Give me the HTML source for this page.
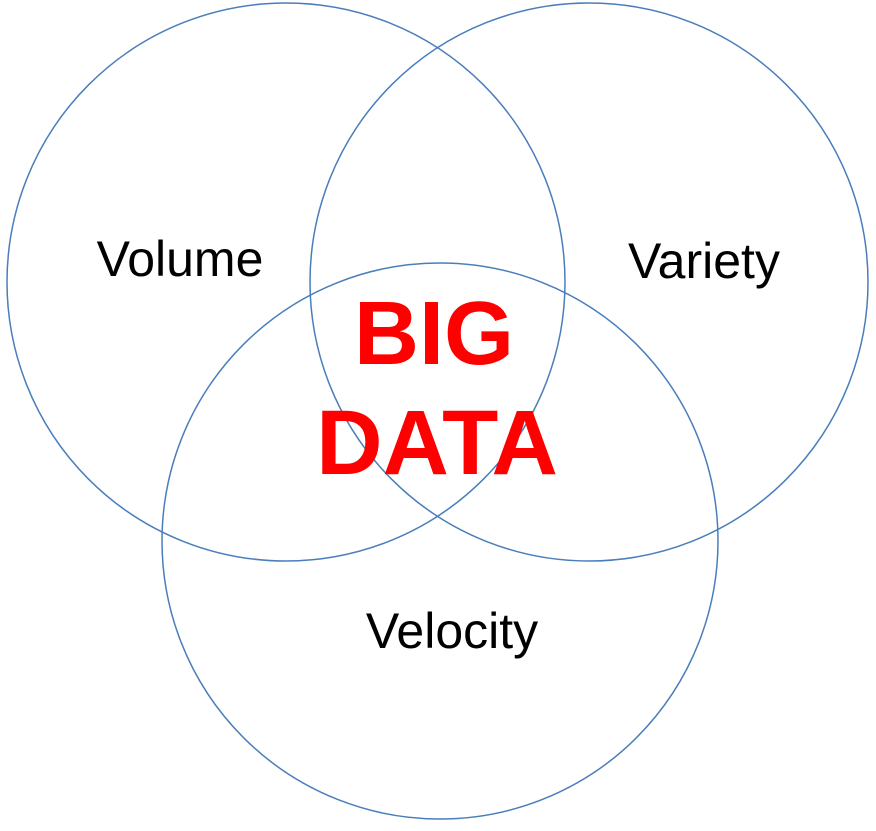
<!DOCTYPE html>
<html><head><meta charset="utf-8"><style>
html,body{margin:0;padding:0;background:#fff;}
svg{display:block;}
</style></head><body>
<svg width="876" height="831" viewBox="0 0 876 831" xmlns="http://www.w3.org/2000/svg">
<g fill="none" stroke="#4a7ebb" stroke-width="1.5">
<circle cx="286" cy="282" r="279"/>
<circle cx="589" cy="282" r="279"/>
<circle cx="440" cy="541" r="278"/>
</g>
<g font-family="Liberation Sans, sans-serif" fill="#000" font-size="50">
<text x="180" y="276" text-anchor="middle">Volume</text>
<text x="704" y="278" text-anchor="middle">Variety</text>
<text x="452" y="648" text-anchor="middle">Velocity</text>
</g>
<g font-family="Liberation Sans, sans-serif" fill="#ff0000" font-weight="bold" text-anchor="middle">
<text x="434" y="364" font-size="90">BIG</text>
<text x="437" y="474" font-size="92">DATA</text>
</g>
</svg>
</body></html>
